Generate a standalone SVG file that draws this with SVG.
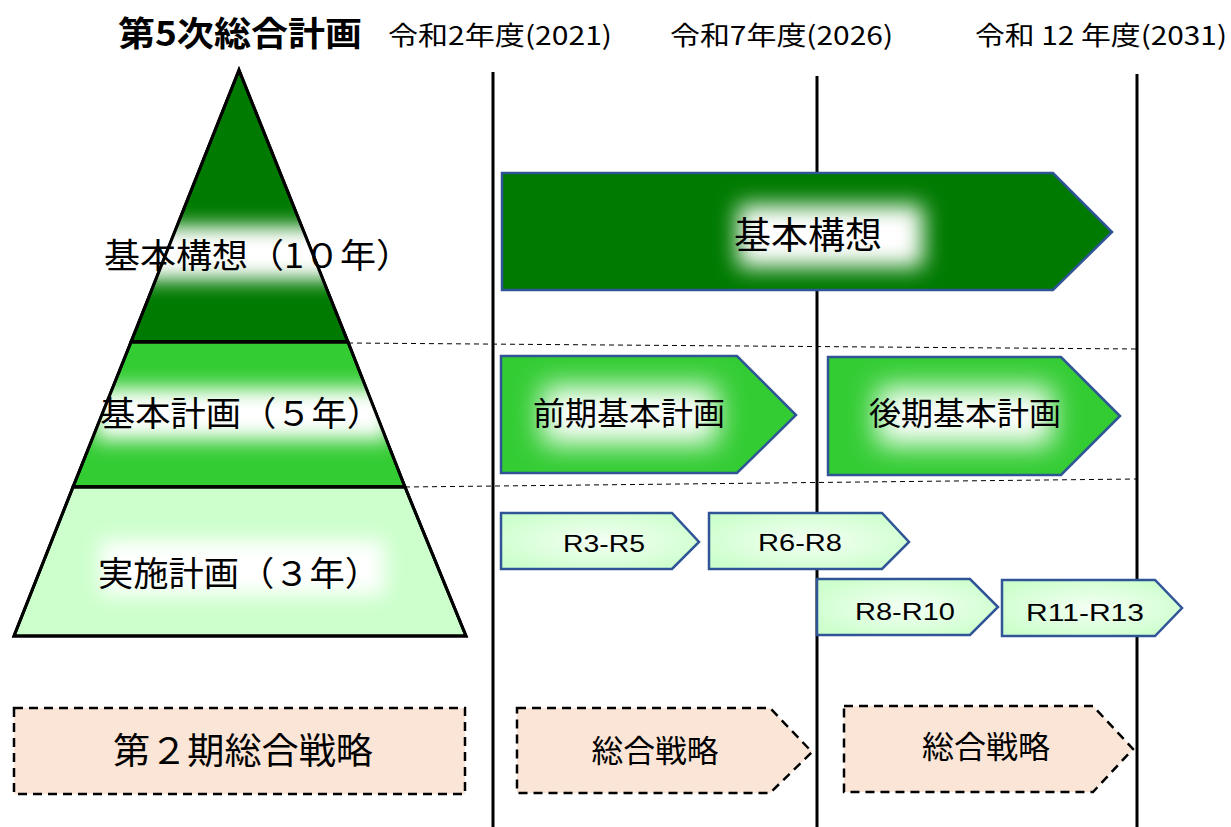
<svg xmlns="http://www.w3.org/2000/svg" width="1231" height="827" viewBox="0 0 1231 827">
<style>
.jp{font-family:"Noto Sans CJK JP","Noto Sans",sans-serif;fill:#000}
.lat{font-family:"Liberation Sans","Noto Sans",sans-serif;fill:#000}
.pyr{stroke:#000;stroke-width:3;stroke-linejoin:miter}
.arr{stroke:#2F5597;stroke-width:2.5;stroke-linejoin:miter}
.dash{stroke:#000;stroke-width:2.5;stroke-dasharray:9 6;fill:#FBE5D6}
.vline{stroke:#000;stroke-width:3}
.guide{stroke:#000;stroke-width:1;stroke-dasharray:5 4}
.glow{fill:#fff}
</style>
<defs>
<filter id="blur10" x="-50%" y="-100%" width="200%" height="300%"><feGaussianBlur stdDeviation="10"/></filter>
<filter id="blur14" x="-50%" y="-100%" width="200%" height="300%"><feGaussianBlur stdDeviation="14"/></filter>
<filter id="blur12" x="-50%" y="-100%" width="200%" height="300%"><feGaussianBlur stdDeviation="11"/></filter>
<radialGradient id="light" cx="0.5" cy="0.5" r="0.6">
<stop offset="0" stop-color="#F4FFF4"/><stop offset="1" stop-color="#CCFFCC"/>
</radialGradient>
<clipPath id="cL1"><polygon points="239,70 131,342 348,342"/></clipPath>
<clipPath id="cL2"><polygon points="131,342 348,342 405,487 73,487"/></clipPath>
<clipPath id="cL3"><polygon points="73,487 405,487 466,636 14,636"/></clipPath>
<clipPath id="cBig"><polygon points="502,173 1053,173 1112,232 1053,290 502,290"/></clipPath>
<clipPath id="cZen"><polygon points="501,356 737,356 796,415 737,473 501,473"/></clipPath>
<clipPath id="cKou"><polygon points="828,357 1061,357 1120,416 1061,475 828,475"/></clipPath>
<clipPath id="cS0"><rect x="14" y="708" width="451" height="86"/></clipPath>
<clipPath id="cS1"><polygon points="517,708 770,708 812,752 770,793 517,793"/></clipPath>
<clipPath id="cS2"><polygon points="844,706 1093,706 1133,749 1093,792 844,792"/></clipPath>
</defs>
<rect width="1231" height="827" fill="#fff"/>

<g id="connectors">
<line class="vline" x1="493" y1="72" x2="493" y2="827"/>
<line class="vline" x1="817" y1="76" x2="817" y2="827"/>
<line class="vline" x1="1137" y1="74" x2="1137" y2="827"/>
<line class="guide" x1="348" y1="343" x2="1137" y2="349"/>
<line class="guide" x1="405" y1="487" x2="1137" y2="479"/>
</g>

<g id="header">
<text class="jp" x="118" y="46" font-size="34" font-weight="bold" textLength="244" lengthAdjust="spacingAndGlyphs">第5次総合計画</text>
<text class="jp" x="388" y="45" font-size="26" textLength="224" lengthAdjust="spacingAndGlyphs">令和2年度(2021)</text>
<text class="jp" x="670" y="45" font-size="26" textLength="223" lengthAdjust="spacingAndGlyphs">令和7年度(2026)</text>
<text class="jp" x="975" y="45" font-size="26" textLength="252" lengthAdjust="spacingAndGlyphs">令和 12 年度(2031)</text>
</g>

<g id="pyramid-kihonkousou">
<polygon class="pyr" points="239,70 131,342 348,342" fill="#007A00"/>
<g clip-path="url(#cL1)"><rect class="glow" x="90" y="226" width="320" height="54" filter="url(#blur10)"/></g>
<polygon points="239,70 131,342 348,342" fill="none" class="pyr"/>
<text class="jp" x="104" y="268" font-size="34" textLength="308" lengthAdjust="spacingAndGlyphs">基本構想（1０年）</text>
</g>

<g id="pyramid-kihonkeikaku">
<polygon class="pyr" points="131,342 348,342 405,487 73,487" fill="#33CC33"/>
<g clip-path="url(#cL2)"><rect class="glow" x="95" y="388" width="295" height="52" filter="url(#blur10)"/></g>
<polygon points="131,342 348,342 405,487 73,487" fill="none" class="pyr"/>
<text class="jp" x="100" y="426" font-size="34" textLength="282" lengthAdjust="spacingAndGlyphs">基本計画（５年）</text>
</g>

<g id="pyramid-jisshikeikaku">
<polygon class="pyr" points="73,487 405,487 466,636 14,636" fill="#CCFFCC"/>
<g clip-path="url(#cL3)"><rect class="glow" x="100" y="540" width="285" height="55" filter="url(#blur10)"/></g>
<polygon points="73,487 405,487 466,636 14,636" fill="none" class="pyr"/>
<text class="jp" x="98" y="586" font-size="34" textLength="282" lengthAdjust="spacingAndGlyphs">実施計画（３年）</text>
</g>

<g id="arrow-kihonkousou">
<polygon class="arr" points="502,173 1053,173 1112,232 1053,290 502,290" fill="#007A00"/>
<g clip-path="url(#cBig)"><rect class="glow" x="738" y="205" width="185" height="62" filter="url(#blur12)"/></g>
<text class="jp" x="808" y="249" font-size="37" text-anchor="middle">基本構想</text>
</g>

<g id="arrow-zenki">
<polygon class="arr" points="501,356 737,356 796,415 737,473 501,473" fill="#33CC33"/>
<g clip-path="url(#cZen)"><rect class="glow" x="542" y="386" width="175" height="58" filter="url(#blur14)"/></g>
<text class="jp" x="629" y="425" font-size="32" text-anchor="middle">前期基本計画</text>
</g>

<g id="arrow-kouki">
<polygon class="arr" points="828,357 1061,357 1120,416 1061,475 828,475" fill="#33CC33"/>
<g clip-path="url(#cKou)"><rect class="glow" x="877" y="387" width="175" height="58" filter="url(#blur14)"/></g>
<text class="jp" x="965" y="425" font-size="32" text-anchor="middle">後期基本計画</text>
</g>

<g id="arrow-r3-r5">
<polygon class="arr" points="501,513 672,513 699,542 672,569 501,569" fill="url(#light)" stroke-width="2"/>
<text class="lat" x="604" y="552" font-size="24" text-anchor="middle" textLength="82" lengthAdjust="spacingAndGlyphs">R3-R5</text>
</g>

<g id="arrow-r6-r8">
<polygon class="arr" points="709,513 882,513 909,542 882,569 709,569" fill="url(#light)" stroke-width="2"/>
<text class="lat" x="800" y="551" font-size="24" text-anchor="middle" textLength="84" lengthAdjust="spacingAndGlyphs">R6-R8</text>
</g>

<g id="arrow-r8-r10">
<polygon class="arr" points="817,579 970,579 998,607 970,635 817,635" fill="url(#light)" stroke-width="2"/>
<text class="lat" x="905" y="620" font-size="24" text-anchor="middle" textLength="100" lengthAdjust="spacingAndGlyphs">R8-R10</text>
</g>

<g id="arrow-r11-r13">
<polygon class="arr" points="1002,580 1155,580 1182,608 1155,636 1002,636" fill="url(#light)" stroke-width="2"/>
<text class="lat" x="1085" y="621" font-size="24" text-anchor="middle" textLength="118" lengthAdjust="spacingAndGlyphs">R11-R13</text>
</g>

<g id="senryaku-2ki">
<rect x="14" y="708" width="451" height="86" fill="#FBE5D6"/>
<g clip-path="url(#cS0)"><rect class="glow" x="70" y="722" width="400" height="52" filter="url(#blur14)"/></g>
<rect class="dash" x="14" y="708" width="451" height="86" fill="none"/>
<text class="jp" x="243" y="764" font-size="36" text-anchor="middle" textLength="260" lengthAdjust="spacingAndGlyphs">第２期総合戦略</text>
</g>

<g id="senryaku-1">
<polygon points="517,708 770,708 812,752 770,793 517,793" fill="#FBE5D6"/>
<g clip-path="url(#cS1)"><rect class="glow" x="575" y="724" width="165" height="52" filter="url(#blur14)"/></g>
<polygon class="dash" points="517,708 770,708 812,752 770,793 517,793" fill="none"/>
<text class="jp" x="655" y="762" font-size="31" text-anchor="middle" textLength="127" lengthAdjust="spacingAndGlyphs">総合戦略</text>
</g>

<g id="senryaku-2">
<polygon points="844,706 1093,706 1133,749 1093,792 844,792" fill="#FBE5D6"/>
<g clip-path="url(#cS2)"><rect class="glow" x="903" y="720" width="165" height="52" filter="url(#blur14)"/></g>
<polygon class="dash" points="844,706 1093,706 1133,749 1093,792 844,792" fill="none"/>
<text class="jp" x="986" y="758" font-size="31" text-anchor="middle" textLength="128" lengthAdjust="spacingAndGlyphs">総合戦略</text>
</g>
</svg>
